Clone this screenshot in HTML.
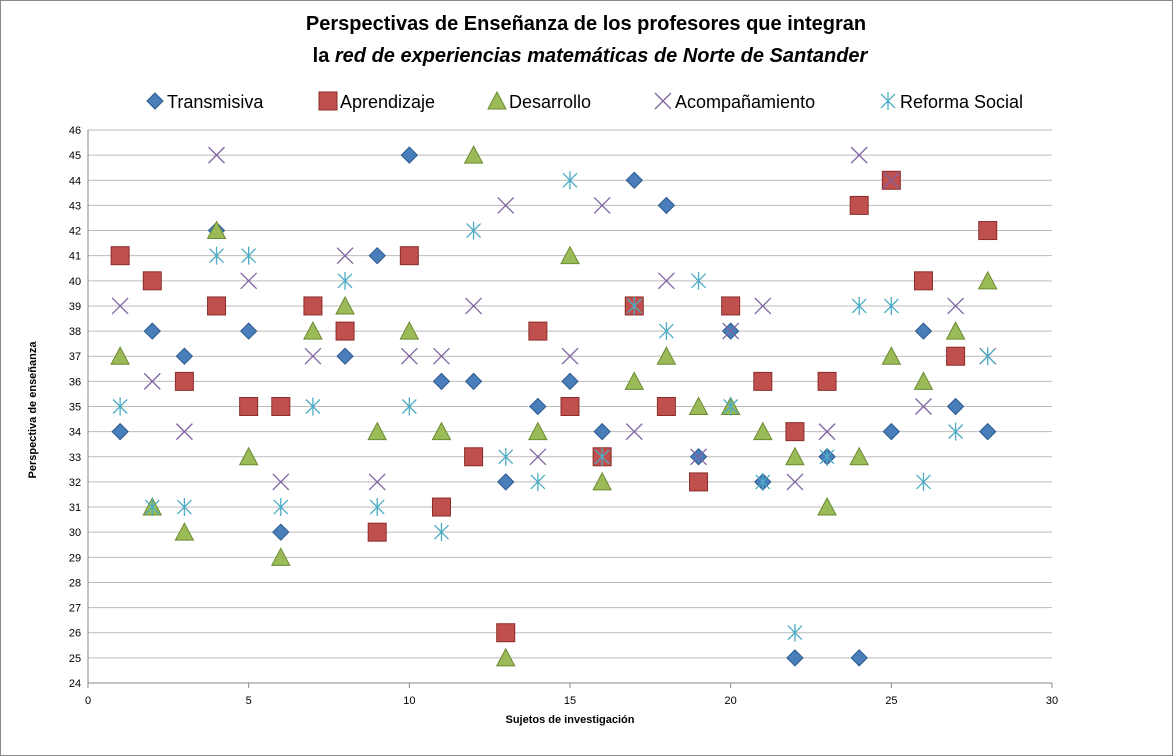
<!DOCTYPE html>
<html><head><meta charset="utf-8"><style>
body{margin:0;background:#fff;font-family:"Liberation Sans",sans-serif}
svg{display:block}
</style></head><body>
<svg id="c" width="1173" height="756">
<rect x="0.5" y="0.5" width="1172" height="755" fill="#fff" stroke="#888"/>
<text x="586" y="30" text-anchor="middle" font-size="20" font-weight="bold">Perspectivas de Enseñanza de los profesores que integran</text>
<text x="590" y="62" text-anchor="middle" font-size="20" font-weight="bold">la <tspan font-style="italic">red de experiencias matemáticas de Norte de Santander</tspan></text>
<g id="grid"></g><g id="marks"></g><g id="legend"></g>
<text transform="translate(36,410) rotate(-90)" text-anchor="middle" font-size="11" font-weight="bold">Perspectiva de enseñanza</text>
<text x="570" y="723" text-anchor="middle" font-size="11" font-weight="bold">Sujetos de investigación</text>
</svg>
<script>
const subjects=[1,2,3,4,5,6,7,8,9,10,11,12,13,14,15,16,17,18,19,20,21,22,23,24,25,26,27,28];
const transmisiva=[34,38,37,42,38,30,39,37,41,45,36,36,32,35,36,34,44,43,33,38,32,25,33,25,34,38,35,34];
const aprendizaje=[41,40,36,39,35,35,39,38,30,41,31,33,26,38,35,33,39,35,32,39,36,34,36,43,44,40,37,42];
const desarrollo=[37,31,30,42,33,29,38,39,34,38,34,45,25,34,41,32,36,37,35,35,34,33,31,33,37,36,38,40];
const acompanamiento=[39,36,34,45,40,32,37,41,32,37,37,39,43,33,37,43,34,40,33,38,39,32,34,45,44,35,39,37];
const reforma=[35,31,31,41,41,31,35,40,31,35,30,42,33,32,44,33,39,38,40,35,32,26,33,39,39,32,34,37];
const xTicks=[0,5,10,15,20,25,30];
const yTicks=[24,25,26,27,28,29,30,31,32,33,34,35,36,37,38,39,40,41,42,43,44,45,46];
const X=v=>88+v*(1052-88)/30, Y=v=>683-(v-24)*(683-130)/22;
const NS="http://www.w3.org/2000/svg";
function mk(t,a,p){const e=document.createElementNS(NS,t);for(const k in a)e.setAttribute(k,a[k]);p.appendChild(e);return e;}
const grid=document.getElementById('grid');
yTicks.forEach(v=>{
 const l=mk('line',{x1:88,x2:1052,y1:Y(v),y2:Y(v),stroke:v==24?'#888':'#bbb'},grid);
 
 
 const t=mk('text',{x:75,y:Y(v)+4,'text-anchor':'middle','font-size':11},grid);t.textContent=v;
 
 
});
const ax=mk('line',{x1:88,x2:88,y1:130,y2:683,stroke:'#888'},grid);


xTicks.forEach(v=>{
 const t=mk('text',{x:X(v),y:704,'text-anchor':'middle','font-size':11},grid);t.textContent=v;
 
 
 mk('line',{x1:X(v),x2:X(v),y1:683,y2:688,stroke:'#888'},grid);
});
const draw={
 d:(g,x,y)=>mk('path',{d:`M${x},${y-8}L${x+8},${y}L${x},${y+8}L${x-8},${y}Z`,fill:'#4a7ebb',stroke:'#2c5a8f'},g),
 s:(g,x,y)=>mk('rect',{x:x-9,y:y-9,width:18,height:18,fill:'#c0504d',stroke:'#8c2d2a'},g),
 t:(g,x,y)=>mk('path',{d:`M${x},${y-9}L${x+9},${y+8}L${x-9},${y+8}Z`,fill:'#9bbb59',stroke:'#6a8a30'},g),
 x:(g,x,y)=>mk('path',{d:`M${x-8},${y-8}L${x+8},${y+8}M${x-8},${y+8}L${x+8},${y-8}`,stroke:'#8064a2','stroke-width':1.3,fill:'none'},g),
 a:(g,x,y)=>mk('path',{d:`M${x-7},${y-7}L${x+7},${y+7}M${x-7},${y+7}L${x+7},${y-7}M${x},${y-9}L${x},${y+9}`,stroke:'#4bacc6','stroke-width':1.3,fill:'none'},g)
};
const series=[['Transmisiva',transmisiva,'d'],['Aprendizaje',aprendizaje,'s'],['Desarrollo',desarrollo,'t'],['Acompañamiento',acompanamiento,'x'],['Reforma Social',reforma,'a']];
const marks=document.getElementById('marks');
series.forEach(([n,vals,k])=>{
 const g=mk('g',{},marks);
 
 
 vals.forEach((v,i)=>{const m=draw[k](g,X(subjects[i]),Y(v));
  
  });
});
const leg=document.getElementById('legend');
const lx=[155,328,497,663,888];
series.forEach(([n,vals,k],i)=>{
 const g=mk('g',{},leg);
 
 
 draw[k](g,lx[i],101);
 const t=mk('text',{x:lx[i]+12,y:108,'font-size':18},g);t.textContent=n;
});
</script>
</body></html>
